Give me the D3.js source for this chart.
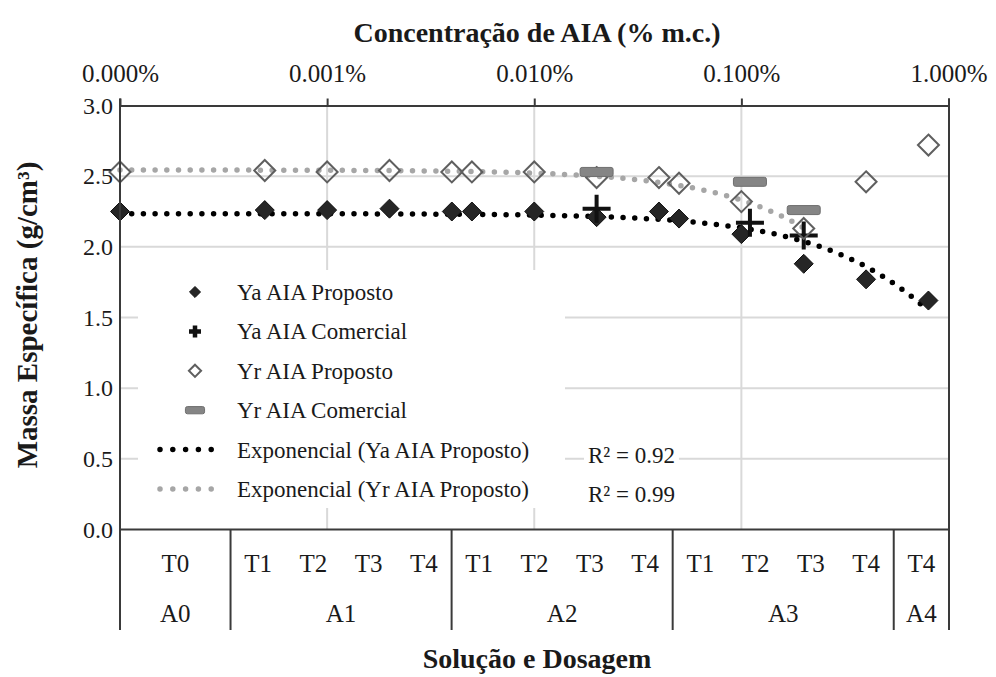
<!DOCTYPE html>
<html>
<head>
<meta charset="utf-8">
<script src="https://cdn.jsdelivr.net/npm/d3@7"></script>
<style>
  body { margin: 0; background: #fff; }
  svg text { font-family: "Liberation Serif", "Times New Roman", serif; fill: #1a1a1a; }
</style>
</head>
<body>
<div id="chart"></div>
<script>
// concentration of AIA (% m.c.), log axis on top
var conc = [0.0001, 0.0005, 0.001, 0.002, 0.004, 0.005, 0.01, 0.02, 0.04, 0.05, 0.1, 0.2, 0.4, 0.8];
var yaProposto = [2.25, 2.26, 2.26, 2.27, 2.25, 2.25, 2.25, 2.21, 2.25, 2.20, 2.09, 1.88, 1.77, 1.62];
var yrProposto = [2.53, 2.54, 2.53, 2.54, 2.53, 2.53, 2.53, 2.49, 2.49, 2.45, 2.32, 2.13, 2.46, 2.72];
var yrFitCount = 12; // trendline of Yr only uses points up to 0.2%

var concComercial = [0.02, 0.11, 0.2];
var yaComercial = [2.27, 2.17, 2.08];
var yrComercial = [2.53, 2.46, 2.26];

var topTicks = [0.0001, 0.001, 0.01, 0.1, 1];
var yTicks = [0, 0.5, 1.0, 1.5, 2.0, 2.5, 3.0];

// bottom category axis (solution / dosage)
var catGroups = ["A0", "A1", "A2", "A3", "A4"];
var catLabels = [["T0"], ["T1", "T2", "T3", "T4"], ["T1", "T2", "T3", "T4"], ["T1", "T2", "T3", "T4"], ["T4"]];
var catSlots = [2, 4, 4, 4, 1];

var legendNames = ["Ya AIA Proposto", "Ya AIA Comercial", "Yr AIA Proposto", "Yr AIA Comercial",
    "Exponencial (Ya AIA Proposto)", "Exponencial (Yr AIA Proposto)"];
var r2Labels = ["R² = 0.92", "R² = 0.99"];

var svgW = 996, svgH = 677;
var pLeft = 120, pRight = 949, pTop = 105.5, pBottom = 529.5, catBottom = 630;

var svg = d3.select("#chart").append("svg")
    .attr("width", svgW)
    .attr("height", svgH);

var xScale = d3.scaleLog().domain([0.0001, 1]).range([pLeft, pRight - 0.5]);
var yScale = d3.scaleLinear().domain([0, 3]).range([pBottom, pTop]);

// gridlines
svg.append("g").selectAll("line")
    .data(yTicks.filter(function(d) { return d > 0 && d < 3; }))
    .enter().append("line")
    .attr("x1", pLeft).attr("x2", pRight)
    .attr("y1", function(d) { return yScale(d); })
    .attr("y2", function(d) { return yScale(d); })
    .attr("stroke", "#d9d9d9").attr("stroke-width", 2);

svg.append("g").selectAll("line")
    .data(topTicks.slice(1, -1))
    .enter().append("line")
    .attr("x1", function(d) { return xScale(d); })
    .attr("x2", function(d) { return xScale(d); })
    .attr("y1", pTop).attr("y2", pBottom)
    .attr("stroke", "#d9d9d9").attr("stroke-width", 2);

// exponential trendline (least squares on ln y, like excel)
function expFit(xs, ys) {
    var n = xs.length;
    var ly = ys.map(function(v) { return Math.log(v); });
    var mx = d3.mean(xs), my = d3.mean(ly);
    var sxy = 0, sxx = 0;
    for (var i = 0; i < n; i++) {
        sxy += (xs[i] - mx) * (ly[i] - my);
        sxx += (xs[i] - mx) * (xs[i] - mx);
    }
    var b = sxy / sxx;
    return { a: Math.exp(my - b * mx), b: b };
}

function trendPoints(fit, x0, x1) {
    var l0 = Math.log10(x0), l1 = Math.log10(x1);
    return d3.range(0, 201).map(function(i) {
        var xv = Math.pow(10, l0 + (l1 - l0) * i / 200);
        return { x: xv, y: fit.a * Math.exp(fit.b * xv) };
    });
}

var line = d3.line()
    .x(function(d) { return xScale(d.x); })
    .y(function(d) { return yScale(d.y); });

var yaFit = expFit(conc, yaProposto);
var yrFit = expFit(conc.slice(0, yrFitCount), yrProposto.slice(0, yrFitCount));

svg.append("path")
    .datum(trendPoints(yrFit, conc[0], conc[yrFitCount - 1]))
    .attr("d", line)
    .attr("fill", "none").attr("stroke", "#a6a6a6")
    .attr("stroke-width", 5.5).attr("stroke-linecap", "round")
    .attr("stroke-dasharray", "0 11.7");

svg.append("path")
    .datum(trendPoints(yaFit, conc[0], conc[conc.length - 1]))
    .attr("d", line)
    .attr("fill", "none").attr("stroke", "#000")
    .attr("stroke-width", 5.5).attr("stroke-linecap", "round")
    .attr("stroke-dasharray", "0 11.7");

// marker helpers
function diamond(r) { return "M0," + (-r) + "L" + r + ",0L0," + r + "L" + (-r) + ",0Z"; }
function cross(r) { return "M" + (-r) + ",0H" + r + "M0," + (-r) + "V" + r; }

function drawFilled(g, s) {
    g.append("path").attr("d", diamond(9.5 * s))
        .attr("fill", "#262626").attr("stroke", "#111").attr("stroke-width", 1);
}
function drawCross(g, s) {
    // legend cross is drawn much smaller than the plotted one
    var r = s < 1 ? 6 : 14;
    g.append("path").attr("d", cross(r))
        .attr("fill", "none").attr("stroke", "#111").attr("stroke-width", s < 1 ? 4.5 : 4);
}
function drawOpen(g, s) {
    g.append("path").attr("d", diamond(10.5 * s))
        .attr("fill", "none").attr("stroke", "#5f5f5f").attr("stroke-width", 2);
}
function drawBar(g, s) {
    g.append("rect").attr("x", -16.5 * s).attr("y", -4.5 * Math.max(s, 0.8))
        .attr("width", 33 * s).attr("height", 9 * Math.max(s, 0.8)).attr("rx", 2)
        .attr("fill", "#858585").attr("stroke", "#6e6e6e").attr("stroke-width", 1);
}

function plotSeries(xs, ys, drawer) {
    var g = svg.append("g");
    xs.forEach(function(xv, i) {
        var m = g.append("g")
            .attr("transform", "translate(" + xScale(xv) + "," + yScale(ys[i]) + ")");
        drawer(m, 1);
    });
}

plotSeries(conc, yaProposto, drawFilled);
plotSeries(concComercial, yaComercial, drawCross);
plotSeries(conc, yrProposto, drawOpen);
plotSeries(concComercial, yrComercial, drawBar);

// axis frame
var frame = svg.append("g").attr("stroke", "#3a3a3a").attr("stroke-width", 2);
frame.append("line").attr("x1", pLeft).attr("x2", pLeft).attr("y1", pTop - 7).attr("y2", catBottom);
frame.append("line").attr("x1", pRight).attr("x2", pRight).attr("y1", pTop - 7).attr("y2", catBottom);
frame.append("line").attr("x1", pLeft).attr("x2", pRight).attr("y1", pBottom).attr("y2", pBottom);

// top log axis
var pct = d3.format(".3%");
var topAxis = svg.append("g")
    .attr("transform", "translate(0," + pTop + ")")
    .call(d3.axisTop(xScale).tickValues(topTicks).tickSize(7).tickSizeOuter(0).tickPadding(16.5)
        .tickFormat(function(d) { return pct(d === topTicks[0] ? 0 : d / 100); }));
topAxis.select(".domain").attr("stroke", "#3a3a3a").attr("stroke-width", 2);
topAxis.selectAll(".tick line").attr("stroke", "#3a3a3a").attr("stroke-width", 2);
topAxis.selectAll("text").attr("font-size", 25).attr("font-family", null);

// left axis
var leftAxis = svg.append("g")
    .attr("transform", "translate(" + pLeft + ",0)")
    .call(d3.axisLeft(yScale).tickValues(yTicks).tickSize(0).tickPadding(7).tickFormat(d3.format(".1f")));
leftAxis.select(".domain").remove();
leftAxis.selectAll("text").attr("font-size", 24).attr("font-family", null);

// category axis below the plot
var totalSlots = d3.sum(catSlots);
var slotScale = d3.scaleLinear().domain([0, totalSlots]).range([pLeft, pRight]);
var start = 0;
catGroups.forEach(function(name, gi) {
    var n = catSlots[gi];
    var x0 = slotScale(start), x1 = slotScale(start + n);
    if (gi > 0) {
        frame.append("line").attr("x1", x0).attr("x2", x0).attr("y1", pBottom).attr("y2", catBottom);
    }
    var labs = catLabels[gi];
    labs.forEach(function(t, li) {
        svg.append("text")
            .attr("x", slotScale(start + (li + 0.5) * n / labs.length))
            .attr("y", 572)
            .attr("text-anchor", "middle")
            .attr("font-size", 25)
            .text(t);
    });
    svg.append("text")
        .attr("x", (x0 + x1) / 2)
        .attr("y", 622)
        .attr("text-anchor", "middle")
        .attr("font-size", 25)
        .text(name);
    start += n;
});

// titles
svg.append("text")
    .attr("x", 537).attr("y", 42)
    .attr("text-anchor", "middle").attr("font-size", 28).attr("font-weight", "bold")
    .text("Concentração de AIA (% m.c.)");

svg.append("text")
    .attr("x", 537).attr("y", 668)
    .attr("text-anchor", "middle").attr("font-size", 28).attr("font-weight", "bold")
    .text("Solução e Dosagem");

svg.append("text")
    .attr("transform", "translate(37,315) rotate(-90)")
    .attr("text-anchor", "middle").attr("font-size", 29).attr("font-weight", "bold")
    .text("Massa Específica (g/cm³)");

// legend
svg.append("rect")
    .attr("x", 138).attr("y", 270).attr("width", 427).attr("height", 238)
    .attr("fill", "#fff");

var drawers = [drawFilled, drawCross, drawOpen, drawBar];
var legendTop = 292, legendStep = 39.4;
legendNames.forEach(function(name, i) {
    var ly = legendTop + i * legendStep;
    if (i < 4) {
        var m = svg.append("g").attr("transform", "translate(195," + ly + ")");
        drawers[i](m, 0.58);
    } else {
        svg.append("line")
            .attr("x1", 160).attr("x2", 224).attr("y1", ly).attr("y2", ly)
            .attr("stroke", i === 4 ? "#000" : "#a6a6a6")
            .attr("stroke-width", 5.5).attr("stroke-linecap", "round")
            .attr("stroke-dasharray", "0 12.8");
    }
    svg.append("text")
        .attr("x", 237).attr("y", ly + 8)
        .attr("font-size", 23)
        .text(name);
});

// R² labels with white background
r2Labels.forEach(function(t, i) {
    var txt = svg.append("text")
        .attr("x", 588).attr("y", 463 + i * 39)
        .attr("font-size", 23)
        .text(t);
    var bb = txt.node().getBBox();
    svg.insert("rect", function() { return txt.node(); })
        .attr("x", bb.x - 4).attr("y", bb.y).attr("width", bb.width + 8).attr("height", bb.height)
        .attr("fill", "#fff");
});
</script>
</body>
</html>
